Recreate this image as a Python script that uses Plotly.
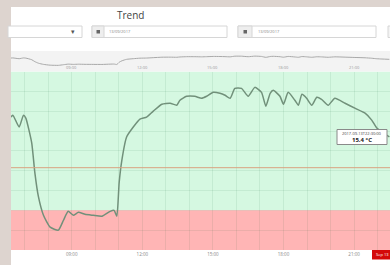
import plotly.graph_objects as go

# ---------------- data ----------------
day = "2017-09-13"
times = ["06:25","06:30","06:46","06:57","07:03","07:18","07:26","07:35","07:48","08:05",
         "08:26","08:39","08:51","09:04","09:17","09:34","09:55","10:17","10:38","10:48",
         "10:55","11:01","11:08","11:20","11:37","11:54","12:11","12:28","12:50","13:11",
         "13:28","13:36","13:53","14:14","14:31","14:44","15:01","15:18","15:31","15:44",
         "15:56","16:13","16:30","16:47","17:04","17:15","17:26","17:34","17:51","18:00",
         "18:12","18:29","18:38","18:47","18:59","19:12","19:25","19:37","19:54","20:11",
         "20:37","21:02","21:28","21:45","21:58","22:11","22:30"]
temps = [17.4,17.6,16.4,17.6,17.3,14.8,11.8,9.4,7.5,6.3,
         6.0,7.0,7.9,7.5,7.8,7.6,7.5,7.4,7.9,8.0,
         7.4,10.8,13.1,15.4,16.4,17.2,17.4,18.0,18.7,18.8,
         18.6,19.1,19.5,19.5,19.3,19.5,19.9,19.8,19.6,19.3,
         20.3,20.3,19.5,20.4,19.9,18.5,19.8,20.1,19.5,18.7,
         19.9,19.1,18.6,19.7,19.3,18.6,19.4,19.2,18.6,19.3,
         18.8,18.3,17.8,17.1,16.3,15.9,15.4]
grid_hours = ["07:00","08:00","09:00","10:00","11:00","12:00","13:00","14:00",
              "15:00","16:00","17:00","18:00","19:00","20:00","21:00","22:00"]
label_hours = ["09:00","12:00","15:00","18:00","21:00"]
x_start, x_end = "06:25:12", "22:31:36"
y_min, y_max = 4, 22
alarm_low = 8          # red band below this
threshold = 12.3       # reference line
tooltip_time = "2017-09-13T22:30:00"
tooltip_value = "15.4 °C"
crosshair_label = "Sep 13"
title = "Trend"
date_text = "13/09/2017"

xs = [f"{day} {t}" for t in times]
tickvals = [f"{day} {h}" for h in grid_hours]
ticktext = [h if h in label_hours else "" for h in grid_hours]
xr = [f"{day} {x_start}", f"{day} {x_end}"]

W, H = 390, 265
def X(px): return px / W
def Y(py): return 1 - py / H

fig = go.Figure()
fig.add_trace(go.Scatter(x=xs, y=temps, mode="lines",
                         line=dict(color="#71907a", width=1.5, shape="spline", smoothing=0.5),
                         xaxis="x", yaxis="y", hoverinfo="skip"))
fig.add_trace(go.Scatter(x=xs, y=temps, mode="lines",
                         line=dict(color="#a8a8a8", width=1, shape="spline", smoothing=0.5),
                         xaxis="x2", yaxis="y2", hoverinfo="skip"))

shapes = [
    # white panel
    dict(type="rect", xref="paper", yref="paper", x0=X(11), x1=X(392), y0=Y(267), y1=Y(7),
         fillcolor="white", line=dict(width=0), layer="below"),
    # navigator bg
    dict(type="rect", xref="paper", yref="paper", x0=X(11), x1=X(392), y0=Y(71.5), y1=Y(51),
         fillcolor="#f3f3f3", line=dict(width=0), layer="below"),
    # bands
    dict(type="rect", xref="x", yref="y", x0=xr[0], x1=xr[1], y0=alarm_low, y1=y_max,
         fillcolor="#d5f8e1", line=dict(width=0), layer="below"),
    dict(type="rect", xref="x", yref="y", x0=xr[0], x1=xr[1], y0=y_min, y1=alarm_low,
         fillcolor="#ffb5b5", line=dict(width=0), layer="below"),
    # threshold line
    dict(type="line", xref="x", yref="y", x0=xr[0], x1=xr[1], y0=threshold, y1=threshold,
         line=dict(color="#d9a27f", width=1)),
    # dropdown
    dict(type="rect", xref="paper", yref="paper", x0=X(8), x1=X(82), y0=Y(37.5), y1=Y(26),
         fillcolor="white", line=dict(color="#d6d6d6", width=1)),
    # date input 1
    dict(type="rect", xref="paper", yref="paper", x0=X(92), x1=X(227), y0=Y(37.5), y1=Y(26),
         fillcolor="white", line=dict(color="#d6d6d6", width=1)),
    dict(type="rect", xref="paper", yref="paper", x0=X(92), x1=X(104), y0=Y(37.5), y1=Y(26),
         fillcolor="#eeeeee", line=dict(color="#d6d6d6", width=1)),
    dict(type="rect", xref="paper", yref="paper", x0=X(96.5), x1=X(100), y0=Y(33.5), y1=Y(30),
         fillcolor="#666666", line=dict(width=0)),
    # date input 2
    dict(type="rect", xref="paper", yref="paper", x0=X(238), x1=X(376), y0=Y(37.5), y1=Y(26),
         fillcolor="white", line=dict(color="#d6d6d6", width=1)),
    dict(type="rect", xref="paper", yref="paper", x0=X(238), x1=X(252), y0=Y(37.5), y1=Y(26),
         fillcolor="#eeeeee", line=dict(color="#d6d6d6", width=1)),
    dict(type="rect", xref="paper", yref="paper", x0=X(243.5), x1=X(247), y0=Y(33.5), y1=Y(30),
         fillcolor="#666666", line=dict(width=0)),
    # third box (cut)
    dict(type="rect", xref="paper", yref="paper", x0=X(388), x1=X(395), y0=Y(37.5), y1=Y(26),
         fillcolor="#f4f4f4", line=dict(color="#d6d6d6", width=1)),
    # tooltip box
    dict(type="rect", xref="paper", yref="paper", x0=X(337), x1=X(387), y0=Y(144.5), y1=Y(129.5),
         fillcolor="white", line=dict(color="#8a8a8a", width=1)),
    # red crosshair label
    dict(type="rect", xref="paper", yref="paper", x0=X(372), x1=X(392), y0=Y(259.5), y1=Y(250),
         fillcolor="#d40a0a", line=dict(width=0)),
]

annotations = [
    dict(text=title, x=X(130), y=Y(15.5), xref="paper", yref="paper", showarrow=False,
         font=dict(size=10, color="#444", family="Open Sans"), xanchor="center", yanchor="middle"),
    dict(text="▾", x=X(73), y=Y(31.5), xref="paper", yref="paper", showarrow=False,
         font=dict(size=7, color="#555"), xanchor="center", yanchor="middle"),
    dict(text=date_text, x=X(107), y=Y(31.5), xref="paper", yref="paper", showarrow=False,
         font=dict(size=4, color="#888"), xanchor="left", yanchor="middle"),
    dict(text=date_text, x=X(256), y=Y(31.5), xref="paper", yref="paper", showarrow=False,
         font=dict(size=4, color="#888"), xanchor="left", yanchor="middle"),
    dict(text=tooltip_time, x=X(362), y=Y(133.5), xref="paper", yref="paper", showarrow=False,
         font=dict(size=4, color="#444"), xanchor="center", yanchor="middle"),
    dict(text="<b>" + tooltip_value + "</b>", x=X(362), y=Y(140), xref="paper", yref="paper",
         showarrow=False, font=dict(size=6, color="#222"), xanchor="center", yanchor="middle"),
    dict(text=crosshair_label, x=X(374), y=Y(254.8), xref="paper", yref="paper", showarrow=False,
         font=dict(size=4, color="white"), xanchor="left", yanchor="middle"),
]
for h in label_hours:
    annotations.append(dict(text=h, x=f"{day} {h}", y=Y(67.5), xref="x2", yref="paper",
                            showarrow=False, font=dict(size=4, color="#9a9a9a"),
                            xanchor="center", yanchor="middle"))

fig.update_layout(
    width=W, height=H, margin=dict(l=0, r=0, t=0, b=0),
    paper_bgcolor="#ddd4cf", plot_bgcolor="rgba(0,0,0,0)",
    showlegend=False, shapes=shapes, annotations=annotations,
    xaxis=dict(domain=[X(11), 1], range=xr, type="date", tickmode="array",
               tickvals=tickvals, ticktext=ticktext, showgrid=True,
               gridcolor="rgba(0,90,40,0.08)", gridwidth=1, ticks="", zeroline=False,
               tickfont=dict(size=4.5, color="#888"), automargin=False, fixedrange=True),
    yaxis=dict(domain=[Y(250), Y(71.5)], range=[y_min, y_max], dtick=2, showgrid=True,
               gridcolor="rgba(0,90,40,0.08)", showticklabels=False, zeroline=False,
               automargin=False),
    xaxis2=dict(domain=[X(11), 1], range=xr, type="date", anchor="y2", showgrid=False,
                showticklabels=False, ticks="", zeroline=False, automargin=False),
    yaxis2=dict(domain=[Y(71.5), Y(51)], range=[-3.6, 28.4], anchor="x2", showgrid=False,
                showticklabels=False, zeroline=False, automargin=False),
)

fig.write_html("out.html", config={"displayModeBar": False},
               post_script="document.body.style.margin='0';document.body.style.background='#ddd4cf';")
